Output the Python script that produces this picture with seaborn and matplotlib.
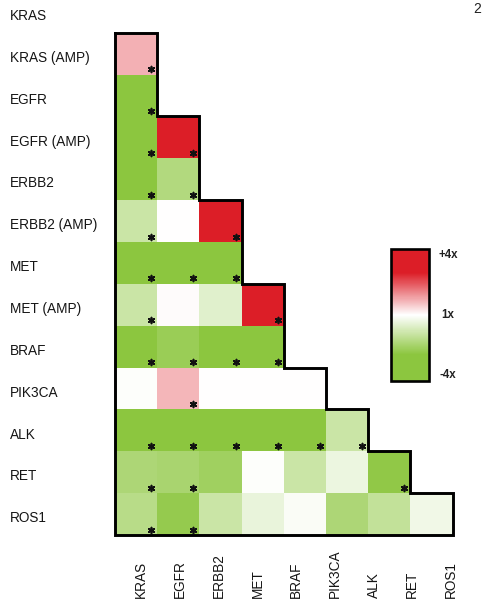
import numpy as np
import pandas as pd
import matplotlib
matplotlib.use("Agg")
import matplotlib.pyplot as plt
from matplotlib.colors import LinearSegmentedColormap
from matplotlib.transforms import blended_transform_factory
import seaborn as sns

plt.rcParams["font.family"] = ["Liberation Sans", "DejaVu Sans"]

row_labels = ["KRAS", "KRAS (AMP)", "EGFR", "EGFR (AMP)", "ERBB2", "ERBB2 (AMP)",
              "MET", "MET (AMP)", "BRAF", "PIK3CA", "ALK", "RET", "ROS1"]
col_labels = ["KRAS", "EGFR", "ERBB2", "MET", "BRAF", "PIK3CA", "ALK", "RET", "ROS1"]

# log2 of observed / expected co-occurrence, one list per row, left to right
log2_ratio = [
    [],
    [0.44],
    [-2.0],
    [-2.1, 2.0],
    [-1.9, -0.8],
    [-0.55, 0.0, 2.2],
    [-2.0, -1.8, -1.9],
    [-0.55, 0.02, -0.32, 2.1],
    [-1.7, -1.05, -1.4, -1.5],
    [-0.02, 0.42, 0.0, 0.0, 0.0],
    [-1.8, -1.6, -1.7, -1.5, -1.6, -0.55],
    [-0.85, -0.9, -1.0, -0.03, -0.55, -0.2, -1.15],
    [-0.75, -1.1, -0.55, -0.22, -0.05, -0.85, -0.63, -0.15],
]

# 1 = significant pair (marked with an asterisk)
significant = [
    [],
    [1],
    [1],
    [1, 1],
    [1, 1],
    [1, 0, 1],
    [1, 1, 1],
    [1, 0, 0, 1],
    [1, 1, 1, 1],
    [0, 1, 0, 0, 0],
    [1, 1, 1, 1, 1, 1],
    [1, 1, 0, 0, 0, 0, 1],
    [1, 1, 0, 0, 0, 0, 0, 0],
]

cbar_ticks = [-2, 0, 2]
cbar_tick_labels = ["-4x", "1x", "+4x"]

n_rows, n_cols = len(row_labels), len(col_labels)
values = np.full((n_rows, n_cols), np.nan)
for r, row in enumerate(log2_ratio):
    values[r, :len(row)] = row
df = pd.DataFrame(values, index=row_labels, columns=col_labels)
mask = df.isna()

green, red = "#8CC63F", "#DC1E27"
cmap = LinearSegmentedColormap.from_list(
    "gwr", [(0.0, green), (0.2, green), (0.5, "#FFFFFF"), (0.82, red), (1.0, red)])

W, H = 482, 612
fig = plt.figure(figsize=(W / 100, H / 100), dpi=100)

cell_w, cell_h = 42.2, 41.85
left_px, bottom_px = 115, 535
ax = fig.add_axes([left_px / W, 1 - bottom_px / H,
                   n_cols * cell_w / W, n_rows * cell_h / H])
cax = fig.add_axes([391 / W, 1 - 381 / H, 38 / W, 132 / H])

sns.heatmap(df, mask=mask, cmap=cmap, vmin=-2, vmax=2, ax=ax, cbar_ax=cax,
            xticklabels=False, yticklabels=False, linewidths=0)
ax.set_xlabel("")
ax.set_ylabel("")
ax.tick_params(left=False, bottom=False)

# staircase outline around the filled cells
counts = [len(r) for r in log2_ratio]
first = next(i for i, c in enumerate(counts) if c > 0)
xs, ys = [0], [first]
for r in range(first, n_rows):
    xs += [counts[r], counts[r]]
    ys += [r, r + 1]
xs += [0, 0]
ys += [n_rows, first]
ax.plot(xs, ys, color="black", lw=2.1, solid_joinstyle="miter",
        solid_capstyle="projecting", clip_on=False, zorder=5)

# asterisks in the lower-right corner of significant cells
for r, row in enumerate(significant):
    for c, flag in enumerate(row):
        if flag:
            ax.scatter(c + 0.86, r + 0.87, marker=(6, 2, 0), s=18,
                       color="#111111", linewidths=1.2, zorder=6)

# row labels, left aligned
tr_rows = blended_transform_factory(fig.transFigure, ax.transData)
for r, lab in enumerate(row_labels):
    ax.text(10 / W, r + 0.6, lab, transform=tr_rows, ha="left", va="center",
            fontsize=9.8, color="#151515", clip_on=False)

# column labels, rotated and bottom aligned on a slightly tighter pitch
tr_cols = blended_transform_factory(ax.transData, fig.transFigure)
label_x = 0.62 + 0.918 * np.arange(n_cols)
for x, lab in zip(label_x, col_labels):
    ax.text(x, 14 / H, lab, transform=tr_cols, rotation=90, ha="center",
            va="bottom", fontsize=9.8, color="#151515", clip_on=False)

# colorbar styling
cbar = ax.collections[0].colorbar
cbar.outline.set_linewidth(1.9)
cbar.outline.set_edgecolor("black")
cbar.set_ticks([])
tr_cbar = cax.get_yaxis_transform()
for t, lab in zip(cbar_ticks, cbar_tick_labels):
    va = "top" if t == max(cbar_ticks) else ("bottom" if t == min(cbar_ticks) else "center")
    cax.text(1.5, t, lab, transform=tr_cbar, ha="center", va=va,
             fontsize=8.3, fontweight="bold", color="#222222")

fig.text(481 / W, 1 - 9 / H, "2", ha="right", va="center", fontsize=10, color="#222222")

fig.savefig("out.png", dpi=100)
